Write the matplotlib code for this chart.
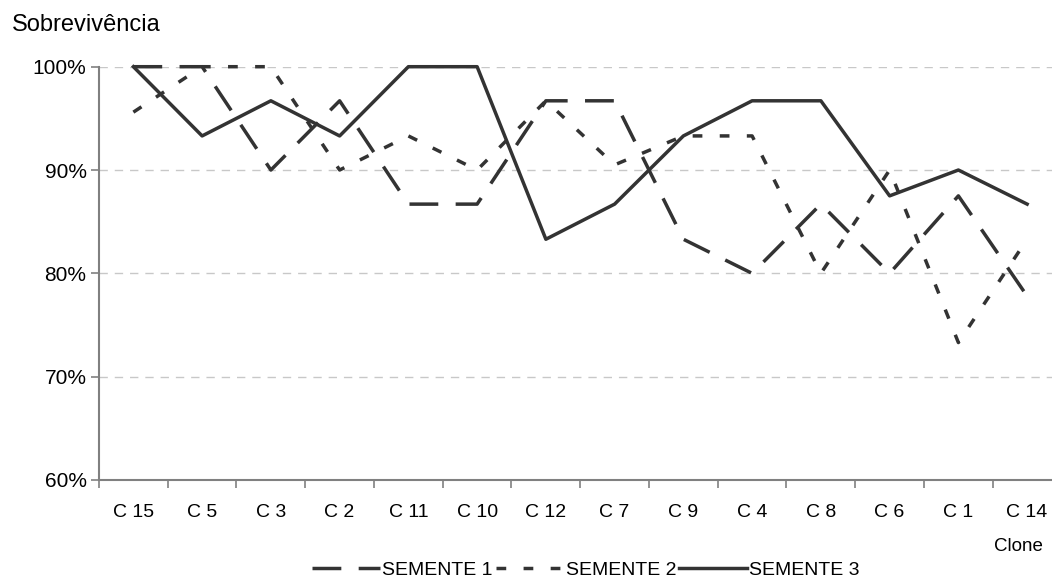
import numpy as np
import matplotlib
matplotlib.use("Agg")
import matplotlib.pyplot as plt

plt.rcParams['font.family'] = ['Liberation Sans', 'DejaVu Sans']

clones = ["C 15", "C 5", "C 3", "C 2", "C 11", "C 10", "C 12",
          "C 7", "C 9", "C 4", "C 8", "C 6", "C 1", "C 14"]
semente1 = [100, 100, 90, 96.7, 86.7, 86.7, 96.7, 96.7, 83.3, 80, 86.7, 80, 87.5, 77.8]
semente2 = [95.6, 100, 100, 90, 93.3, 90, 96.7, 90.5, 93.3, 93.3, 80, 90, 73.3, 83.3]
semente3 = [100, 93.3, 96.7, 93.3, 100, 100, 83.3, 86.7, 93.3, 96.7, 96.7, 87.5, 90, 86.7]
yticks = [60, 70, 80, 90, 100]

W, H = 1052, 584
fig = plt.figure(figsize=(W / 100, H / 100), dpi=100)
ax = fig.add_axes([99 / W, 1 - 480 / H, 962.5 / W, (480 - 66.7) / H])

x = np.arange(len(clones))
cor = '#333333'
lw = 2.5
ax.plot(x, semente1, color=cor, lw=lw, dashes=(8.3, 5), label='SEMENTE 1', clip_on=False)
ax.plot(x, semente2, color=cor, lw=lw, dashes=(2.8, 5), label='SEMENTE 2', clip_on=False)
ax.plot(x, semente3, color=cor, lw=lw, label='SEMENTE 3', clip_on=False)

ax.set_xlim(-0.5, len(clones) - 0.5)
ax.set_ylim(60, 100)
ax.set_yticks(yticks)
ax.set_yticklabels([f'{v}%' for v in yticks])
ax.set_xticks(x)
ax.set_xticklabels(clones)
ax.set_xticks(np.arange(len(clones) + 1) - 0.5, minor=True)
ax.tick_params(axis='x', which='major', length=0, pad=17.5, labelsize=14)
ax.tick_params(axis='x', which='minor', length=6, color='#808080', width=1.2)
ax.tick_params(axis='y', length=6, color='#808080', width=1.2, pad=3, labelsize=15)

ax.grid(axis='y', color='#c8c8c8', ls=(0, (6, 5)), lw=1)
ax.set_axisbelow(True)
for s in ['top', 'right']:
    ax.spines[s].set_visible(False)
for s in ['left', 'bottom']:
    ax.spines[s].set_color('#808080')
    ax.spines[s].set_linewidth(1.5)

fig.text(12 / W, 1 - 31 / H, 'Sobrevivência', fontsize=17, va='baseline', ha='left')
fig.text(1043 / W, 1 - 551 / H, 'Clone', fontsize=13.5, va='baseline', ha='right')

fig.legend(loc='center', bbox_to_anchor=(586 / W, 1 - 570 / H), ncol=3,
           frameon=False, fontsize=14, handlelength=3.5, handletextpad=0.1,
           columnspacing=0.15, borderpad=0)

fig.savefig('out.png', dpi=100)
